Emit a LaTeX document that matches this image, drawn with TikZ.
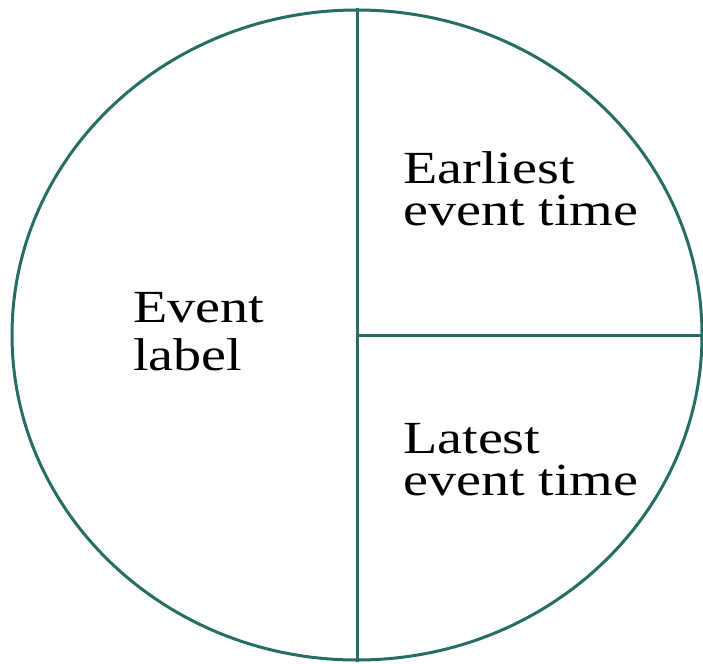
\documentclass[tikz,border=0pt]{standalone}
\usepackage{fontspec}
\setmainfont{Liberation Serif}[FakeStretch=1.22]
\usetikzlibrary{positioning, shapes.geometric}
\definecolor{rimC}{RGB}{38, 110, 100}

\begin{document}
\begin{tikzpicture}[x=1pt, y=-1pt]
        \useasboundingbox (0,0) rectangle (703,663);
        \tikzset{label/.style={align=left, inner sep=0, anchor=base west}}

        % event circle
        \node[ellipse, draw=rimC, line width=3pt, inner sep=0,
              minimum width=690, minimum height=650] (ev) at (357,335) {};
        \draw[rimC, line width=3pt] (ev.north) -- (ev.south);
        \draw[rimC, line width=3pt] (ev.center) -- (ev.east);

        % labels (anchored at the baseline of the last line)
        \node[label, font=\fontsize{46}{48}\selectfont] (lab) at (133,370) {Event\\label};
        \node[label, font=\fontsize{46}{42}\selectfont] (eet) at (403,225) {Earliest\\event time};
        \node[label, font=\fontsize{46}{42}\selectfont] (let) at (403,495) {Latest\\event time};
      \end{tikzpicture}
\end{document}
